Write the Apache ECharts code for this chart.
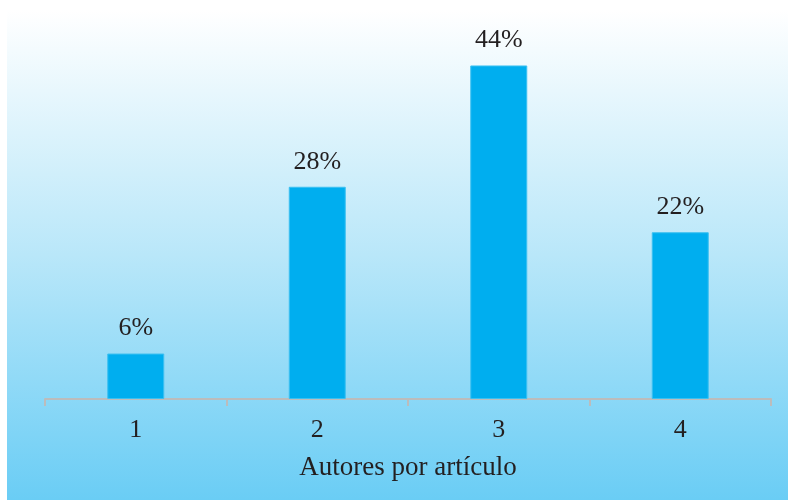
<!DOCTYPE html>
<html>
<head>
<meta charset="utf-8">
<script src="https://cdn.jsdelivr.net/npm/echarts@6/dist/echarts.min.js"></script>
<style>
  html, body { margin: 0; padding: 0; background: #ffffff; }
  #chart { width: 789px; height: 500px; }
</style>
</head>
<body>
<div id="chart"></div>
<script>
// Share of articles by number of authors
const categories = ['1', '2', '3', '4'];
const shares = [6, 28, 44, 22];
const axisTitle = 'Autores por artículo';

const serif = '"Liberation Serif", "DejaVu Serif", serif';
const ink = '#231f20';

const chart = echarts.init(document.getElementById('chart'), null, { renderer: 'canvas' });

chart.setOption({
  animation: false,
  graphic: [{
    type: 'rect',
    z: -10,
    silent: true,
    shape: { x: 7, y: 10, width: 781, height: 490 },
    style: {
      fill: new echarts.graphic.LinearGradient(0, 0, 0, 1, [
        { offset: 0, color: '#ffffff' },
        { offset: 0.5, color: '#b9e7f9' },
        { offset: 1, color: '#6acdf5' }
      ])
    }
  }],
  grid: { left: 45, right: 18, top: 20, bottom: 101, containLabel: false },
  xAxis: {
    type: 'category',
    data: categories,
    name: axisTitle,
    nameLocation: 'middle',
    nameGap: 55,
    nameTextStyle: { fontFamily: serif, fontSize: 27, color: ink },
    axisLine: { show: true, lineStyle: { color: '#bcbcbc', width: 2 } },
    axisTick: { show: true, alignWithLabel: false, length: 7, lineStyle: { color: '#bcbcbc', width: 2 } },
    axisLabel: { margin: 18, fontFamily: serif, fontSize: 26, color: ink }
  },
  yAxis: {
    type: 'value',
    min: 0,
    max: 50,
    show: false,
    splitLine: { show: false }
  },
  series: [{
    type: 'bar',
    data: shares,
    barWidth: 57,
    itemStyle: { color: '#00aeef', borderColor: '#3cc0f1', borderWidth: 1 },
    label: {
      show: true,
      position: 'top',
      distance: 12,
      formatter: '{c}%',
      fontFamily: serif,
      fontSize: 26,
      color: ink
    }
  }]
});
</script>
</body>
</html>
